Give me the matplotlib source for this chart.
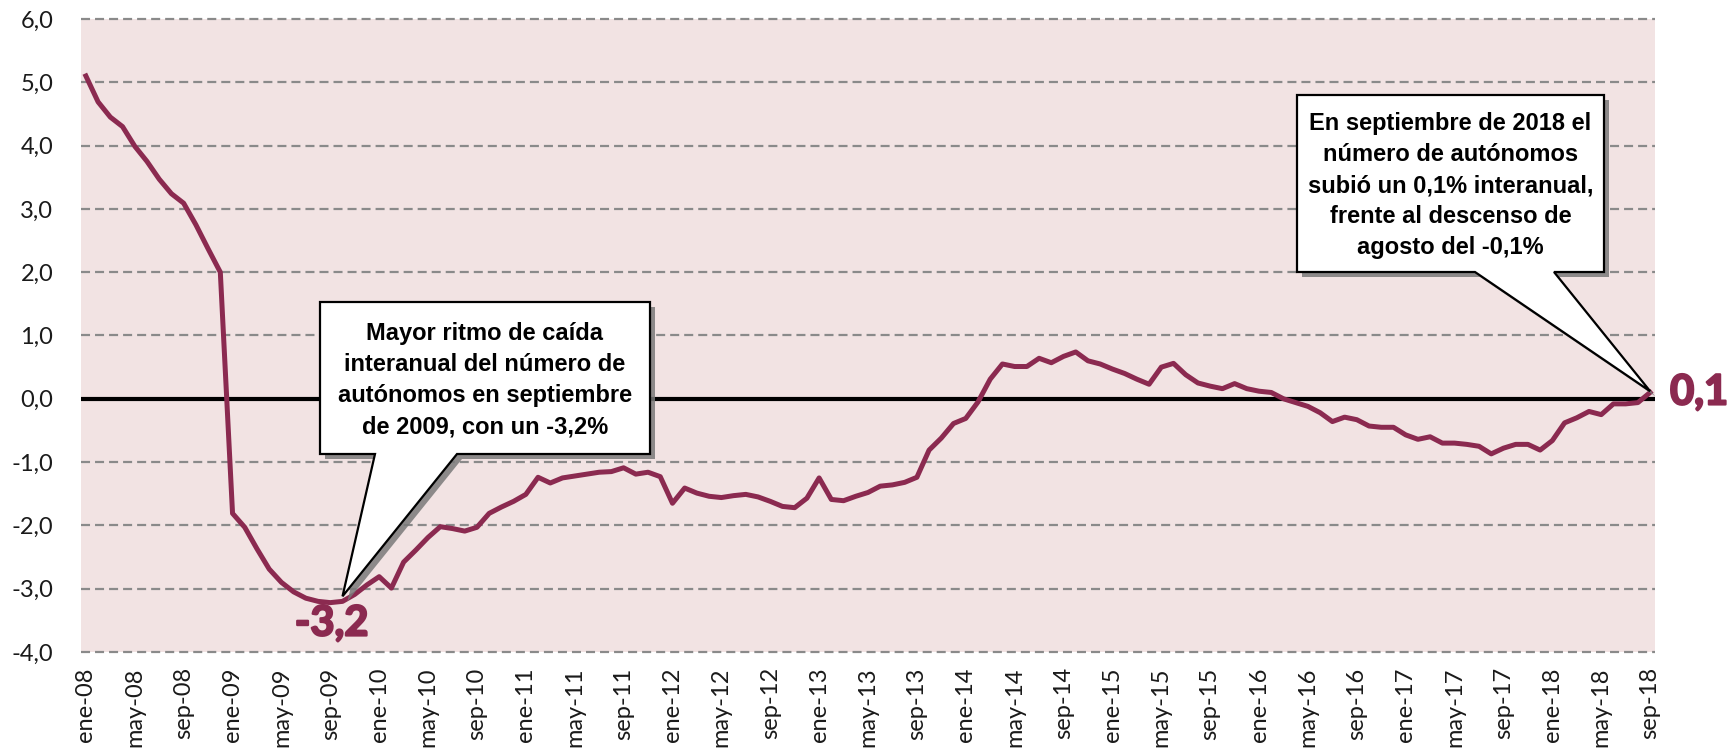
"""Tasa de variacion interanual del numero de autonomos, ene-08 a sep-18."""

import numpy as np
import matplotlib
matplotlib.use("Agg")
import matplotlib.pyplot as plt
import matplotlib.patheffects as pe
from matplotlib.patches import Polygon

# monthly year-on-year change (%), from ene-08 to sep-18
values_2008 = [5.10, 4.69, 4.45, 4.30, 3.99, 3.75, 3.47, 3.24, 3.09, 2.75, 2.37, 2.00]
values_2009 = [-1.81, -2.03, -2.37, -2.69, -2.90, -3.05, -3.15, -3.20, -3.22, -3.20, -3.09, -2.94]
values_2010 = [-2.81, -2.99, -2.58, -2.39, -2.19, -2.02, -2.05, -2.09, -2.03, -1.81, -1.71, -1.62]
values_2011 = [-1.51, -1.24, -1.33, -1.25, -1.22, -1.19, -1.16, -1.15, -1.09, -1.19, -1.16, -1.23]
values_2012 = [-1.65, -1.41, -1.49, -1.54, -1.56, -1.53, -1.51, -1.55, -1.62, -1.70, -1.72, -1.57]
values_2013 = [-1.25, -1.59, -1.61, -1.54, -1.48, -1.38, -1.36, -1.32, -1.24, -0.81, -0.62, -0.39]
values_2014 = [-0.31, -0.05, 0.31, 0.55, 0.51, 0.51, 0.64, 0.57, 0.67, 0.74, 0.60, 0.55]
values_2015 = [0.47, 0.40, 0.31, 0.23, 0.50, 0.56, 0.38, 0.25, 0.20, 0.16, 0.24, 0.16]
values_2016 = [0.12, 0.10, 0.00, -0.06, -0.12, -0.22, -0.36, -0.29, -0.33, -0.43, -0.45, -0.45]
values_2017 = [-0.57, -0.64, -0.60, -0.70, -0.70, -0.72, -0.75, -0.87, -0.78, -0.72, -0.72, -0.81]
values_2018 = [-0.66, -0.38, -0.30, -0.20, -0.25, -0.08, -0.08, -0.06, 0.10]

tick_labels = ["ene-08", "may-08", "sep-08", "ene-09", "may-09", "sep-09", "ene-10", "may-10",
               "sep-10", "ene-11", "may-11", "sep-11", "ene-12", "may-12", "sep-12", "ene-13",
               "may-13", "sep-13", "ene-14", "may-14", "sep-14", "ene-15", "may-15", "sep-15",
               "ene-16", "may-16", "sep-16", "ene-17", "may-17", "sep-17", "ene-18", "may-18",
               "sep-18"]
y_ticks = [-4, -3, -2, -1, 0, 1, 2, 3, 4, 5, 6]
y_tick_labels = ["-4,0", "-3,0", "-2,0", "-1,0", "0,0", "1,0", "2,0", "3,0", "4,0", "5,0", "6,0"]

note_min = ("Mayor ritmo de caída\ninteranual del número de\nautónomos en septiembre\n"
            "de 2009, con un -3,2%")
note_last = ("En septiembre de 2018 el\nnúmero de autónomos\nsubió un 0,1% interanual,\n"
             "frente al descenso de\nagosto del -0,1%")

LINE_COLOR = "#8B2A50"
BG_COLOR = "#F2E3E3"
W, H = 1733, 748


def px_to_data(ax, points):
    """Converts pixel positions (from the top-left of the image) to data coordinates."""

    disp = np.array([[x, H - y] for x, y in points], dtype=float)
    return ax.transData.inverted().transform(disp)


def add_callout(ax, box, base, tip, text):
    """Draws a rectangular callout with a pointer and a soft shadow."""

    x0, y0, x1, y1 = box
    tip_px = ax.transData.transform(tip)
    tip_px = (tip_px[0], H - tip_px[1])
    outline = [(x0, y0), (x1, y0), (x1, y1), (base[1], y1), tip_px, (base[0], y1), (x0, y1)]
    shadow = [(x + 5, y + 5) for x, y in outline]

    ax.add_patch(Polygon(px_to_data(ax, shadow), closed=True, facecolor="#7a7a7a",
                         edgecolor="none", alpha=0.85, zorder=5, clip_on=False))
    ax.add_patch(Polygon(px_to_data(ax, outline), closed=True, facecolor="white",
                         edgecolor="black", linewidth=1.6, joinstyle="miter",
                         zorder=6, clip_on=False))
    cx, cy = px_to_data(ax, [((x0 + x1) / 2, (y0 + y1) / 2 + 2)])[0]
    ax.text(cx, cy, text, ha="center", va="center", multialignment="center",
            fontsize=17, fontweight="bold", family="Liberation Sans", linespacing=1.45,
            color="black", zorder=7)


def main():
    plt.rcParams["lines.scale_dashes"] = False
    values = (values_2008 + values_2009 + values_2010 + values_2011 + values_2012 + values_2013
              + values_2014 + values_2015 + values_2016 + values_2017 + values_2018)
    months = np.arange(len(values))

    fig = plt.figure(figsize=(W / 100, H / 100), dpi=100)
    ax = fig.add_axes([81 / W, 96 / H, 1574 / W, 633 / H])
    ax.set_facecolor(BG_COLOR)
    ax.set_xlim(-0.4, 128.4)
    ax.set_ylim(-4, 6)
    for side in ax.spines.values():
        side.set_visible(False)

    # dashed gridlines and the solid zero line
    for y in y_ticks:
        if y == 0:
            ax.axhline(0, color="black", linewidth=3, zorder=2)
        else:
            ax.axhline(y, color="#8a8a8a", linewidth=1.6, dashes=(6.5, 3.6),
                       zorder=1, clip_on=False)

    ax.plot(months, values, color=LINE_COLOR, linewidth=3.6, solid_joinstyle="round", zorder=3)

    ax.set_xticks(months[::4])
    ax.set_xticklabels(tick_labels, rotation=90, family="Lato", fontsize=17, color="#1a1a1a")
    ax.set_yticks(y_ticks)
    ax.set_yticklabels(y_tick_labels, family="Lato", fontsize=17, color="#1a1a1a")
    ax.tick_params(axis="x", length=0, pad=11)
    ax.tick_params(axis="y", length=0, pad=20)

    # value labels at the minimum and the last month
    bold = [pe.withStroke(linewidth=1.6, foreground=LINE_COLOR)]
    ax.text(20.1, -3.55, "-3,2", ha="center", va="center", family="Lato", fontweight="bold",
            fontsize=30, color=LINE_COLOR, zorder=4, path_effects=bold)
    ax.text(132.0, 0.1, "0,1", ha="center", va="center", family="Lato", fontweight="bold",
            fontsize=30, color=LINE_COLOR, clip_on=False, path_effects=bold)

    add_callout(ax, (320, 302, 650, 454), (375, 457), (21, -3.12), note_min)
    add_callout(ax, (1297, 95, 1604, 272), (1475, 1554), (128, 0.12), note_last)

    fig.savefig("out.png", dpi=100, facecolor="white")


if __name__ == "__main__":
    main()
